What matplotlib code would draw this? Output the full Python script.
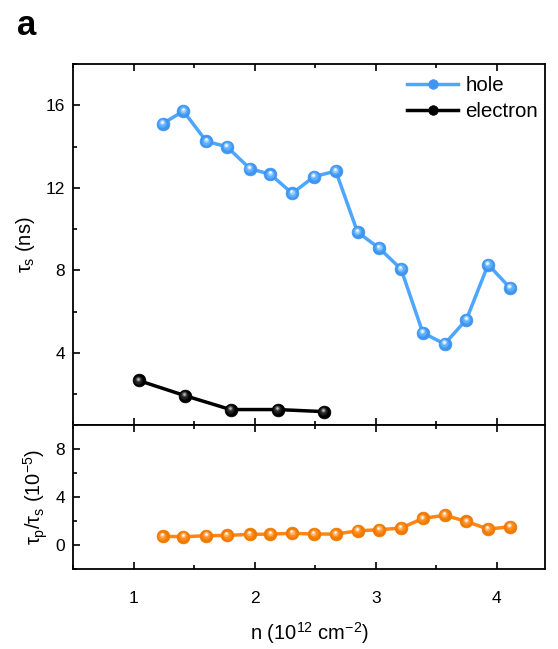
import matplotlib
matplotlib.use("Agg")
import matplotlib.pyplot as plt
import matplotlib.transforms as mtransforms
from matplotlib.ticker import MultipleLocator

plt.rcParams['font.family'] = ['Liberation Sans', 'DejaVu Sans']
plt.rcParams['mathtext.fontset'] = 'custom'
plt.rcParams['mathtext.rm'] = 'Liberation Sans'
plt.rcParams['mathtext.it'] = 'Liberation Sans'

# Spin lifetime vs carrier density
hole_n = [1.24, 1.41, 1.60, 1.77, 1.96, 2.13, 2.31, 2.49, 2.67, 2.85, 3.03,
          3.21, 3.39, 3.57, 3.75, 3.93, 4.11]
hole_tau = [15.11, 15.72, 14.25, 13.99, 12.93, 12.65, 11.73, 12.54, 12.81,
            9.85, 9.07, 8.06, 4.97, 4.43, 5.61, 8.28, 7.15]

elec_n = [1.04, 1.42, 1.80, 2.19, 2.57]
elec_tau = [2.66, 1.93, 1.25, 1.25, 1.15]

# Ratio tau_p / tau_s (units of 1e-5)
ratio = [0.72, 0.69, 0.77, 0.80, 0.88, 0.91, 0.97, 0.91, 0.91, 1.18, 1.27,
         1.41, 2.21, 2.48, 1.96, 1.32, 1.52]

fig = plt.figure(figsize=(5.58, 6.49), dpi=100)
ax1 = fig.add_axes([0.1314, 0.3451, 0.8453, 0.5563])
ax2 = fig.add_axes([0.1314, 0.1233, 0.8453, 0.2219])


def sphere(ax, x, y, line_c, shades, label=None):
    """Line with ball-like markers: a base disc plus lighter offset layers."""
    h, = ax.plot(x, y, '-', color=line_c, lw=2.5, marker='o', ms=9.2,
                 mfc=shades[0], mec=shades[0], mew=0.5, label=label,
                 zorder=3)
    layers = [(6.0, -0.3, 0.6, shades[1]), (3.6, -0.5, 1.1, shades[2]),
              (1.8, -0.6, 1.4, shades[3])]
    for ms, dx, dy, c in layers:
        off = mtransforms.offset_copy(ax.transData, fig=fig, x=dx, y=dy,
                                      units='points')
        ax.plot(x, y, 'o', ms=ms, mfc=c, mec='none', transform=off,
                zorder=4)
    return h


sphere(ax1, hole_n, hole_tau, '#4da6ff',
       ['#3f95f0', '#5cb0ff', '#9dcfff', '#ffffff'], label='hole')
sphere(ax1, elec_n, elec_tau, '#000000',
       ['#000000', '#202020', '#555555', '#bdbdbd'], label='electron')
sphere(ax2, hole_n, ratio, '#ff8614',
       ['#f07a00', '#ff8e22', '#ffb870', '#ffffff'])

for ax in (ax1, ax2):
    ax.set_xlim(0.5, 4.4)
    ax.xaxis.set_major_locator(MultipleLocator(1))
    ax.xaxis.set_minor_locator(MultipleLocator(0.5))
    ax.tick_params(which='both', direction='in', top=True, right=False,
                   labelsize=12.5, width=1.2, pad=6)
    ax.tick_params(which='major', length=5)
    ax.tick_params(which='minor', length=3)
    for s in ax.spines.values():
        s.set_linewidth(1.3)

ax1.set_ylim(0.5, 18)
ax1.set_yticks([4, 8, 12, 16])
ax1.yaxis.set_minor_locator(MultipleLocator(2))
ax1.tick_params(labelbottom=False)
ax1.set_ylabel(r'$\tau_\mathrm{s}$ (ns)', fontsize=14.5, labelpad=6)

ax2.set_ylim(-2, 10)
ax2.set_yticks([0, 4, 8])
ax2.yaxis.set_minor_locator(MultipleLocator(2))
ax2.tick_params(axis='x', pad=16)
ax2.set_ylabel(r'$\tau_\mathrm{p}/\tau_\mathrm{s}$ (10$^{-5}$)',
               fontsize=14.5, labelpad=4)
ax2.set_xlabel(r'n (10$^{12}$ cm$^{-2}$)', fontsize=14.5, labelpad=10)

leg = ax1.legend(loc='upper left', frameon=False, fontsize=14.8,
                 handlelength=2.5, handletextpad=0.35, labelspacing=0.35,
                 borderaxespad=0.0, markerscale=0.75,
                 bbox_to_anchor=(0.69, 0.99))

fig.text(0.03, 0.96, 'a', fontsize=25, fontweight='bold', va='center')

fig.savefig('out.png', dpi=100)
